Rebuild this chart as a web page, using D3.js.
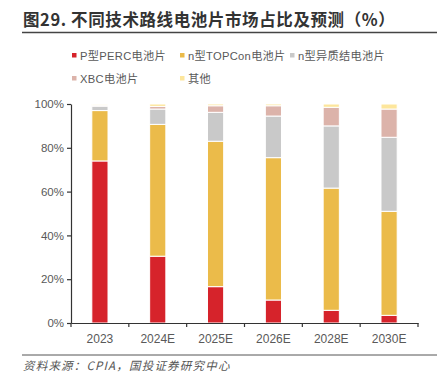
<!DOCTYPE html>
<html><head><meta charset="utf-8">
<script src="https://cdn.jsdelivr.net/npm/d3@7"></script>
<style>body{margin:0;background:#fff}svg{display:block}</style>
</head><body><svg id="c" width="445" height="381"></svg>
<script>
const categories = ["2023","2024E","2025E","2026E","2028E","2030E"];
const seriesNames = ["P型PERC电池片","n型TOPCon电池片","n型异质结电池片","XBC电池片","其他"];
const perc   = [74, 30.5, 16.6, 10.5, 5.8, 3.5];
const topcon = [23, 60.2, 66.4, 65.0, 55.8, 47.5];
const hjt    = [2.0, 7.0, 13.2, 19.0, 28.4, 33.8];
const xbc    = [0.5, 1.2, 3.0, 4.7, 8.5, 12.9];
const other  = [0.5, 1.1, 0.8, 0.8, 1.5, 2.3];
const yTicks = [0,20,40,60,80,100];
const colors = ["#d6232b","#ebbb4a","#c9c9c9","#dcb3aa","#fde69c"];

const svg = d3.select("#c");
const font = "'Noto Sans CJK SC', 'Noto Sans', sans-serif";
const latin = "'Liberation Sans', 'Noto Sans CJK SC', sans-serif";
// title
svg.append("text").attr("x",23).attr("y",26).attr("font-family",font).attr("font-weight","bold")
  .attr("font-size",16.5).attr("letter-spacing",0.6).attr("fill","#333").text("图29. 不同技术路线电池片市场占比及预测（%）");
svg.append("line").attr("x1",22).attr("x2",437).attr("y1",32.5).attr("y2",32.5).attr("stroke","#444").attr("stroke-width",1.5);

// legend
const legPos = [[74,55],[182,55],[292,55],[74,78],[182,78]];
seriesNames.forEach((n,i)=>{
  const g = svg.append("g").attr("transform",`translate(${legPos[i][0]},${legPos[i][1]})`);
  g.append("rect").attr("x",-2).attr("y",-2).attr("width",4.5).attr("height",4.5).attr("fill",colors[i]);
  g.append("text").attr("x",6).attr("y",4.5).attr("font-family",latin).attr("font-size",11.2).attr("letter-spacing",0.3).attr("fill","#595959").text(n);
});

const x = d3.scaleBand().domain(categories).range([71,418]).paddingInner(0.72).paddingOuter(0.36);
const y = d3.scaleLinear().domain([0,100]).range([323,104]);

const data = categories.map((c,i)=>({cat:c, v:[perc[i],topcon[i],hjt[i],xbc[i],other[i]]}));
const keys = [0,1,2,3,4];
const stack = d3.stack().keys(keys).value((d,k)=>d.v[k]);
const layers = stack(data);
layers.forEach((layer,li)=>{
  svg.append("g").selectAll("rect").data(layer).join("rect")
    .attr("x",d=>x(d.data.cat)).attr("width",x.bandwidth())
    .attr("y",d=>y(d[1])).attr("height",d=>Math.max(0,y(d[0])-y(d[1])))
    .attr("fill",colors[li]).attr("stroke","#fff").attr("stroke-width",1);
});

// axes
const xb = d3.scaleBand().domain(categories).range([71,418]);
const ax = svg.append("g").attr("transform","translate(0,323)")
  .call(d3.axisBottom(xb).tickSize(0).tickSizeOuter(0));
ax.select(".domain").attr("stroke","#333").attr("stroke-width",1.2);
ax.selectAll("text").attr("font-family",latin).attr("font-size",12).attr("fill","#595959").attr("dy","1.4em");
// boundary ticks
const bounds = categories.map(c=>xb(c)).concat([418]);
svg.append("g").selectAll("line").data(bounds).join("line")
  .attr("x1",d=>d).attr("x2",d=>d).attr("y1",323).attr("y2",327).attr("stroke","#333").attr("stroke-width",1.2);

const ay = svg.append("g").attr("transform","translate(71,0)")
  .call(d3.axisLeft(y).tickValues(yTicks).tickFormat(d=>d+"%").tickSize(4).tickSizeOuter(0));
ay.select(".domain").attr("stroke","#333").attr("stroke-width",1.2);
ay.selectAll(".tick line").attr("stroke","#333").attr("stroke-width",1.2);
ay.selectAll("text").attr("font-family",latin).attr("font-size",11.5).attr("fill","#595959");

// footer
svg.append("line").attr("x1",22).attr("x2",437).attr("y1",355).attr("y2",355).attr("stroke","#555").attr("stroke-width",1);
svg.append("text").attr("x",23).attr("y",370).attr("font-family",font).attr("font-size",11.5).attr("letter-spacing",1.2)
  .attr("font-style","italic").attr("fill","#555").text("资料来源：CPIA，国投证券研究中心");
</script></body></html>
